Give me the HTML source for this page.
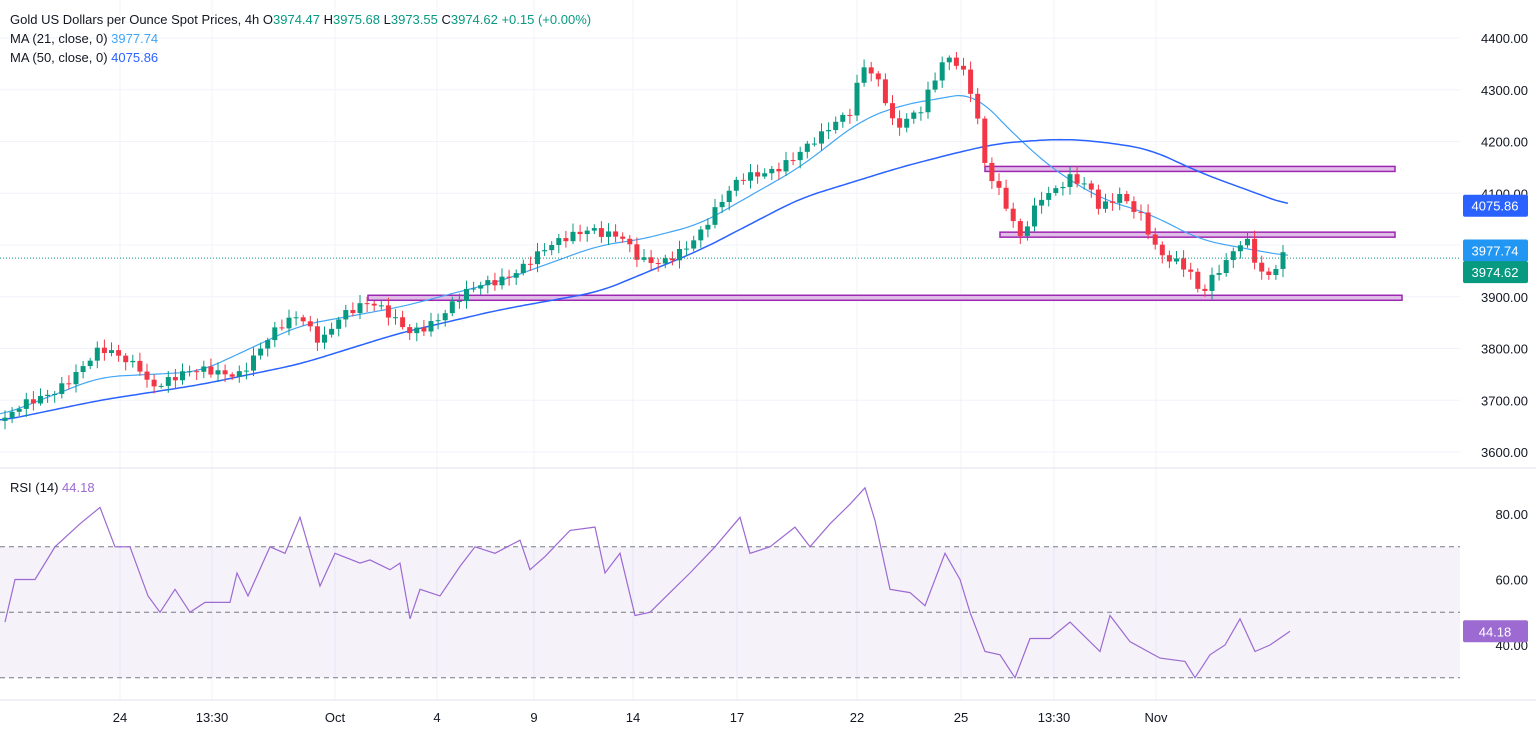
<!DOCTYPE html><html><head><meta charset="utf-8"><style>
body{margin:0;width:1536px;height:737px;background:#fff;font-family:"Liberation Sans",sans-serif;overflow:hidden}
svg{position:absolute;left:0;top:0}
</style></head><body>
<svg id="s" width="1536" height="737" xmlns="http://www.w3.org/2000/svg"></svg>
<script>
const S=document.getElementById('s');let h='';
const py=p=>38+(4400-p)*0.5175, ry=v=>514+(80-v)*3.275;
function interp(k,x){for(let i=0;i<k.length-1;i++){if(x>=k[i][0]&&x<=k[i+1][0]){const t=(x-k[i][0])/(k[i+1][0]-k[i][0]);return k[i][1]+t*(k[i+1][1]-k[i][1]);}}return k[k.length-1][1];}
for(let p=3600;p<=4400;p+=100){h+=`<line x1="0" x2="1460" y1="${py(p)}" y2="${py(p)}" stroke="#f0f3fa"/>`;h+=`<text x="1528" y="${py(p)+5}" text-anchor="end" font-size="13" fill="#131722">${p}.00</text>`;}
const xl=[[120,'24'],[212,'13:30'],[335,'Oct'],[437,'4'],[534,'9'],[633,'14'],[737,'17'],[857,'22'],[961,'25'],[1054,'13:30'],[1156,'Nov']];
xl.forEach(a=>{h+=`<line x1="${a[0]}" x2="${a[0]}" y1="0" y2="700" stroke="#f0f3fa"/>`;h+=`<text x="${a[0]}" y="722" text-anchor="middle" font-size="13" fill="#131722">${a[1]}</text>`;});
h+=`<line x1="0" x2="1536" y1="468" y2="468" stroke="#e0e3eb"/>`;
h+=`<rect x="0" y="${ry(70)}" width="1460" height="${ry(30)-ry(70)}" fill="#7e57c2" fill-opacity="0.08"/>`;
[70,50,30].forEach(v=>h+=`<line x1="0" x2="1460" y1="${ry(v)}" y2="${ry(v)}" stroke="#787b86" stroke-dasharray="5,4"/>`);
[80,60,40].forEach(v=>h+=`<text x="1528" y="${ry(v)+5}" text-anchor="end" font-size="13" fill="#131722">${v}.00</text>`);
h+=`<line x1="0" x2="1536" y1="700" y2="700" stroke="#e0e3eb"/>`;
const K=[[5,3655],[20,3680],[50,3720],[80,3760],[100,3790],[140,3770],[150,3735],[200,3750],[240,3760],[270,3820],[300,3860],[320,3820],[340,3870],[370,3880],[410,3840],[440,3860],[480,3920],[520,3960],[560,4000],[590,4040],[620,4020],[640,3960],[660,3960],[700,4030],[740,4120],[780,4160],[820,4200],[850,4260],[863,4360],[880,4320],[895,4220],[920,4250],[945,4370],[960,4360],[975,4280],[985,4150],[1000,4090],[1020,4010],[1040,4100],[1070,4130],[1090,4100],[1100,4060],[1120,4100],[1140,4070],[1160,3980],[1190,3940],[1200,3900],[1215,3950],[1235,4000],[1245,4020],[1260,3940],[1270,3930],[1284,3975]];
[[985,1395,4147],[1000,1395,4020],[368,1402,3898]].forEach(a=>h+=`<rect x="${a[0]}" y="${py(a[2])-2.5}" width="${a[1]-a[0]}" height="5" fill="#e1bee7" stroke="#9c27b0" stroke-width="1.5"/>`);
const M21=[[0,3670],[100,3745],[200,3755],[300,3845],[400,3880],[500,3930],[600,4000],[640,4010],[700,4040],[800,4150],[860,4240],[900,4270],[975,4295],[1000,4240],[1050,4150],[1100,4090],[1150,4060],[1200,4010],[1240,3995],[1290,3978]];
const M50=[[0,3660],[100,3700],[200,3730],[300,3770],[400,3830],[500,3875],[600,3910],[700,3990],[800,4090],[900,4150],[960,4180],[1000,4197],[1060,4205],[1100,4200],[1150,4185],[1200,4140],[1290,4076]];
function smooth(k,x){let s=0;for(let j=-20;j<=20;j+=4)s+=interp(k,Math.min(Math.max(x+j,k[0][0]),k[k.length-1][0]));return s/11;}
function poly(k,f,col,w){let d='';for(let x=k[0][0];x<=k[k.length-1][0];x+=4){d+=(d?'L':'M')+x+','+f(smooth(k,x)).toFixed(1);}return `<path d="${d}" fill="none" stroke="${col}" stroke-width="${w}" stroke-linejoin="round"/>`;}
h+=poly(M21,py,'#42a5f5',1.2);h+=poly(M50,py,'#2962ff',1.5);
let prev=3660;
for(let x=5;x<=1284;x+=7.1){let c=interp(K,x)+Math.sin(x*1.7)*10+Math.sin(x*0.53)*7;const o=prev;const up=c>=o;const col=up?'#089981':'#f23645';
const hi=Math.max(o,c)+4+Math.abs(Math.sin(x*2.3))*12, lo=Math.min(o,c)-4-Math.abs(Math.cos(x*1.9))*12;
h+=`<line x1="${x}" x2="${x}" y1="${py(hi)}" y2="${py(lo)}" stroke="${col}"/>`;
const t=py(Math.max(o,c)),b=py(Math.min(o,c));h+=`<rect x="${x-2.5}" y="${t}" width="5" height="${Math.max(1,b-t)}" fill="${col}"/>`;prev=c;}
h+=`<line x1="0" x2="1460" y1="${py(3974.62)}" y2="${py(3974.62)}" stroke="#089981" stroke-dasharray="1,2"/>`;
const R=[[5,47],[15,60],[35,60],[55,70],[80,77],[100,82],[115,70],[130,70],[148,55],[160,50],[175,57],[190,50],[205,53],[230,53],[237,62],[248,55],[270,70],[285,68],[300,79],[320,58],[335,68],[360,65],[370,66],[390,63],[400,65],[410,48],[420,57],[440,55],[460,64],[475,70],[495,68],[520,72],[530,63],[545,67],[570,75],[595,76],[605,62],[620,68],[635,49],[650,50],[670,56],[690,62],[715,70],[740,79],[750,68],[770,70],[795,76],[810,70],[830,77],[850,83],[865,88],[875,78],[890,57],[910,56],[925,52],[945,68],[960,60],[970,50],[985,38],[1000,37],[1015,30],[1030,42],[1050,42],[1070,47],[1100,38],[1110,49],[1130,41],[1160,36],[1185,35],[1195,30],[1210,37],[1225,40],[1240,48],[1255,38],[1270,40],[1290,44.18]];
let d='';R.forEach(p=>d+=(d?'L':'M')+p[0]+','+ry(p[1]).toFixed(1));h+=`<path d="${d}" fill="none" stroke="#9c6ad1" stroke-width="1.2"/>`;
function lab(y,t,bg){h+=`<rect x="1463" y="${y-11}" width="65" height="22" rx="2" fill="${bg}"/><text x="1495" y="${y+5}" text-anchor="middle" font-size="13" fill="#fff">${t}</text>`;}
lab(py(4075.86),'4075.86','#2962ff');lab(py(3977.74)-6,'3977.74','#2196f3');lab(py(3974.62)+14,'3974.62','#089981');lab(ry(44.18),'44.18','#9c6ad1');
h+=`<text x="10" y="24" font-size="13" fill="#131722">Gold US Dollars per Ounce Spot Prices, 4h  O<tspan fill="#089981">3974.47</tspan> H<tspan fill="#089981">3975.68</tspan> L<tspan fill="#089981">3973.55</tspan> C<tspan fill="#089981">3974.62 +0.15 (+0.00%)</tspan></text>`;
h+=`<text x="10" y="43" font-size="13" fill="#131722">MA (21, close, 0) <tspan fill="#42a5f5">3977.74</tspan></text>`;
h+=`<text x="10" y="62" font-size="13" fill="#131722">MA (50, close, 0) <tspan fill="#2962ff">4075.86</tspan></text>`;
h+=`<text x="10" y="492" font-size="13" fill="#131722">RSI (14) <tspan fill="#9c6ad1">44.18</tspan></text>`;
S.innerHTML=h;
</script></body></html>
